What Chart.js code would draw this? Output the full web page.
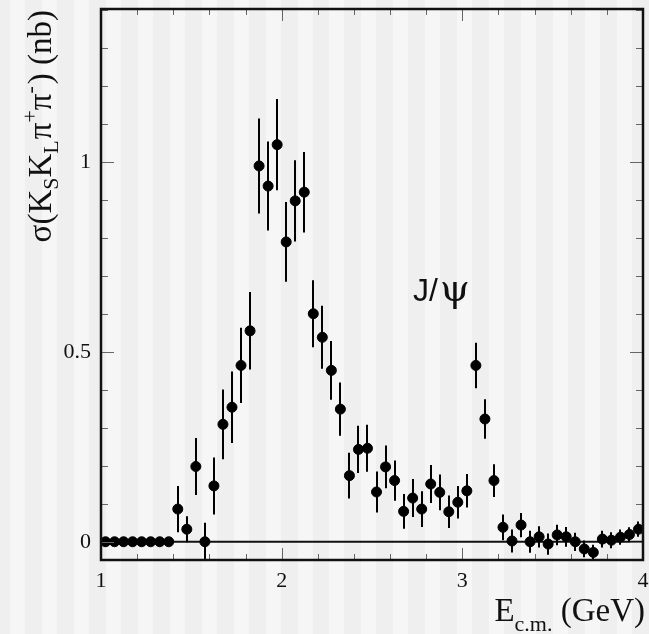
<!DOCTYPE html>
<html>
<head>
<meta charset="utf-8">
<script src="https://cdn.jsdelivr.net/npm/chart.js@4/dist/chart.umd.min.js"></script>
<style>
  html, body { margin: 0; padding: 0; background: #f3f3f3; }
  canvas { display: block; }
</style>
</head>
<body>
<canvas id="chart" width="649" height="634"></canvas>
<script>
// cross section vs. c.m. energy, 50 MeV bins
const energies = [
  1.025, 1.075, 1.125, 1.175, 1.225, 1.275, 1.325, 1.375,
  1.425, 1.475, 1.525, 1.575, 1.625, 1.675, 1.725, 1.775, 1.825, 1.875,
  1.925, 1.975, 2.025, 2.075, 2.125, 2.175, 2.225, 2.275, 2.325, 2.375,
  2.425, 2.475, 2.525, 2.575, 2.625, 2.675, 2.725, 2.775, 2.825, 2.875,
  2.925, 2.975, 3.025, 3.075, 3.125, 3.175, 3.225, 3.275, 3.325, 3.375,
  3.425, 3.475, 3.525, 3.575, 3.625, 3.675, 3.725, 3.775, 3.825, 3.875,
  3.925, 3.975
];
const sigma = [
  0, 0, 0, 0, 0, 0, 0, 0,
  0.086, 0.033, 0.198, 0.0, 0.147, 0.309, 0.354, 0.464, 0.555, 0.989,
  0.936, 1.045, 0.789, 0.897, 0.920, 0.600, 0.538, 0.451, 0.349, 0.174,
  0.243, 0.246, 0.131, 0.197, 0.161, 0.080, 0.115, 0.086, 0.152, 0.130,
  0.079, 0.104, 0.134, 0.464, 0.323, 0.161, 0.038, 0.002, 0.044, 0.0,
  0.013, -0.006, 0.018, 0.013, 0.0, -0.019, -0.028, 0.007, 0.004, 0.012,
  0.019, 0.033
];
const sigmaErr = [
  0, 0, 0, 0, 0, 0, 0, 0,
  0.061, 0.034, 0.075, 0.050, 0.075, 0.092, 0.094, 0.099, 0.102, 0.125,
  0.117, 0.120, 0.105, 0.107, 0.106, 0.088, 0.083, 0.077, 0.070, 0.060,
  0.062, 0.062, 0.054, 0.056, 0.053, 0.046, 0.050, 0.047, 0.050, 0.047,
  0.043, 0.043, 0.044, 0.060, 0.052, 0.043, 0.034, 0.030, 0.032, 0.029,
  0.028, 0.028, 0.027, 0.026, 0.024, 0.022, 0.020, 0.022, 0.021, 0.020,
  0.019, 0.020
];
const xTickLabels = [1, 2, 3, 4];
const yTickLabels = [0, 0.5, 1];

const serif = "'Liberation Serif', 'DejaVu Serif', serif";

// grey vertical stripes behind everything
const stripes = {
  id: 'stripes',
  beforeDraw(chart) {
    const ctx = chart.ctx;
    ctx.save();
    ctx.fillStyle = '#efefef';
    ctx.fillRect(0, 0, chart.width, chart.height);
    ctx.fillStyle = '#f6f6f6';
    for (let x = 10; x < chart.width; x += 31.95) {
      ctx.fillRect(Math.round(x), 0, 15, chart.height);
    }
    ctx.restore();
  }
};

// zero line + error bars (under the markers)
const errorBars = {
  id: 'errorBars',
  beforeDatasetsDraw(chart) {
    const { ctx, chartArea: a, scales: { x, y } } = chart;
    ctx.save();
    ctx.beginPath();
    ctx.rect(a.left, a.top, a.right - a.left, a.bottom - a.top);
    ctx.clip();

    ctx.strokeStyle = '#111';
    ctx.lineWidth = 2;
    ctx.beginPath();
    ctx.moveTo(a.left, y.getPixelForValue(0));
    ctx.lineTo(a.right, y.getPixelForValue(0));
    ctx.stroke();

    ctx.strokeStyle = '#000';
    ctx.lineWidth = 2;
    energies.forEach((e, i) => {
      if (!sigmaErr[i]) return;
      const px = Math.round(x.getPixelForValue(e));
      ctx.beginPath();
      ctx.moveTo(px, y.getPixelForValue(sigma[i] + sigmaErr[i]));
      ctx.lineTo(px, y.getPixelForValue(sigma[i] - sigmaErr[i]));
      ctx.stroke();
    });
    ctx.restore();
  }
};

function drawRich(ctx, parts, x0, y0) {
  let x = x0;
  parts.forEach(p => {
    ctx.font = p.size + 'px ' + (p.family || serif);
    ctx.fillText(p.text, x, y0 + (p.dy || 0));
    x += ctx.measureText(p.text).width + (p.gap || 0);
  });
}

function richWidth(ctx, parts) {
  return parts.reduce((w, p) => {
    ctx.font = p.size + 'px ' + (p.family || serif);
    return w + ctx.measureText(p.text).width + (p.gap || 0);
  }, 0);
}

// frame, inward ticks, titles, label
const frame = {
  id: 'frame',
  afterDraw(chart) {
    const { ctx, chartArea: a, scales: { x, y } } = chart;
    ctx.save();

    // ticks
    ctx.strokeStyle = '#666';
    ctx.lineWidth = 1;
    ctx.beginPath();
    for (let k = 0; k <= 15; k++) {
      const v = 1 + k * 0.2;
      const px = Math.round(x.getPixelForValue(v)) + 0.5;
      const len = Math.abs(v - Math.round(v)) < 1e-6 ? 12 : 6;
      ctx.moveTo(px, a.bottom); ctx.lineTo(px, a.bottom - len);
      ctx.moveTo(px, a.top); ctx.lineTo(px, a.top + len);
    }
    for (let k = 0; k <= 14; k++) {
      const v = k * 0.1;
      const py = Math.round(y.getPixelForValue(v)) + 0.5;
      const len = k % 5 === 0 ? 13 : 7;
      ctx.moveTo(a.left, py); ctx.lineTo(a.left + len, py);
      ctx.moveTo(a.right, py); ctx.lineTo(a.right - len, py);
    }
    ctx.stroke();

    ctx.strokeStyle = '#111';
    ctx.lineWidth = 2.5;
    ctx.strokeRect(a.left, a.top, a.right - a.left, a.bottom - a.top);

    // y title, rotated
    ctx.fillStyle = '#111';
    ctx.textBaseline = 'alphabetic';
    ctx.textAlign = 'left';
    const yTitle = [
      { text: 'σ(K', size: 33 },
      { text: 'S', size: 22, dy: 7 },
      { text: 'K', size: 33 },
      { text: 'L', size: 22, dy: 7, gap: 1 },
      { text: 'π', size: 33 },
      { text: '+', size: 22, dy: -14 },
      { text: 'π', size: 33 },
      { text: '-', size: 22, dy: -14, gap: 2 },
      { text: ') (nb)', size: 33 }
    ];
    ctx.save();
    ctx.translate(51, 10 + richWidth(ctx, yTitle));
    ctx.rotate(-Math.PI / 2);
    drawRich(ctx, yTitle, 0, 0);
    ctx.restore();

    // x title
    const xTitle = [
      { text: 'E', size: 33 },
      { text: 'c.m.', size: 22, dy: 10 },
      { text: ' (GeV)', size: 33 }
    ];
    drawRich(ctx, xTitle, 645 - richWidth(ctx, xTitle), 621);

    // resonance label
    drawRich(ctx, [
      { text: 'J/', size: 32, family: "'Liberation Sans', Arial, sans-serif", gap: 2 },
      { text: 'ψ', size: 38, family: "'DejaVu Serif', serif" }
    ], 413, 301);

    ctx.restore();
  }
};

new Chart(document.getElementById('chart'), {
  type: 'scatter',
  data: {
    datasets: [{
      data: energies.map((e, i) => ({ x: e, y: sigma[i] })),
      backgroundColor: '#000',
      borderColor: '#000',
      pointRadius: 5,
      pointHoverRadius: 5,
      clip: false
    }]
  },
  options: {
    responsive: false,
    devicePixelRatio: 1,
    animation: false,
    events: [],
    layout: { padding: { top: 9, right: 2, left: 0, bottom: 0 } },
    plugins: { legend: { display: false }, tooltip: { enabled: false } },
    scales: {
      x: {
        type: 'linear',
        min: 1,
        max: 4,
        grid: { display: false, drawTicks: false },
        border: { display: false },
        afterBuildTicks: s => { s.ticks = xTickLabels.map(v => ({ value: v })); },
        afterFit: s => { s.height = 74; s.paddingLeft = 0; s.paddingRight = 0; },
        ticks: {
          padding: 8,
          maxRotation: 0,
          color: '#111',
          font: { family: serif, size: 22 },
          callback: v => String(v)
        }
      },
      y: {
        type: 'linear',
        min: -0.048,
        max: 1.402,
        grid: { display: false, drawTicks: false },
        border: { display: false },
        afterBuildTicks: s => { s.ticks = yTickLabels.map(v => ({ value: v })); },
        afterFit: s => { s.width = 101; s.paddingTop = 0; s.paddingBottom = 0; },
        ticks: {
          padding: 10,
          color: '#111',
          font: { family: serif, size: 22 },
          callback: v => String(v)
        }
      }
    }
  },
  plugins: [stripes, errorBars, frame]
});
</script>
</body>
</html>
